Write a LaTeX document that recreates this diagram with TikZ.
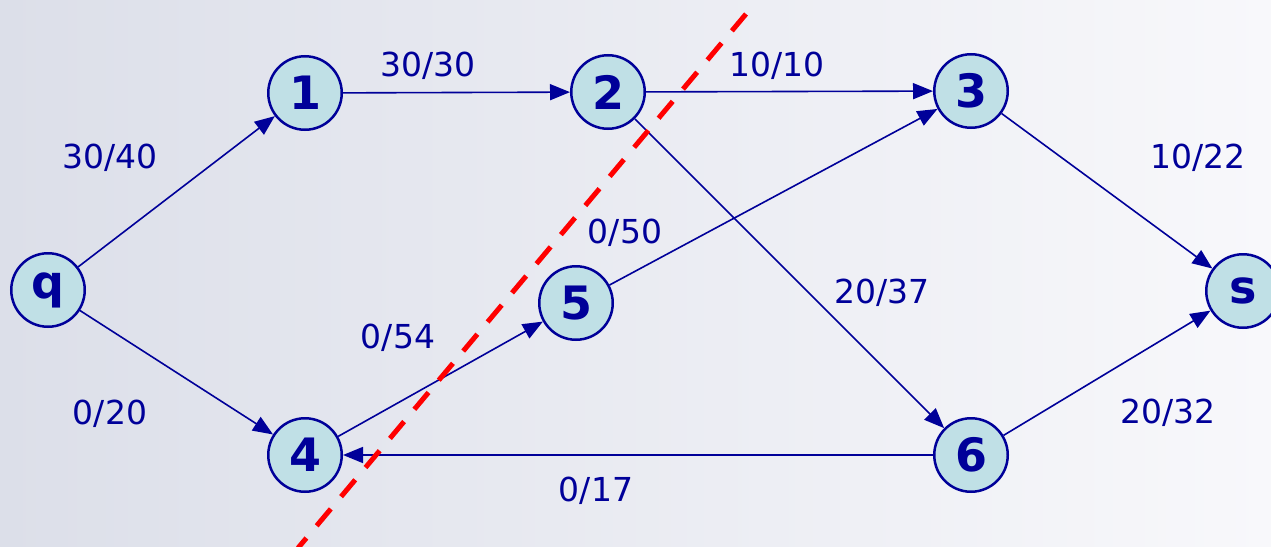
\documentclass[tikz,border=0pt]{standalone}
\usepackage{fontspec}
\setmainfont{DejaVu Sans}
\usetikzlibrary{arrows.meta}
\definecolor{navy}{HTML}{000099}
\definecolor{nodefill}{HTML}{C0E0E6}
\definecolor{bgleft}{HTML}{DCDFE9}
\definecolor{bgright}{HTML}{F8F8FB}
\tikzset{
  vertex/.style={circle, draw=navy, line width=2.5pt, fill=nodefill, minimum size=73.5pt, inner sep=0pt, text=navy, font=\fontsize{46}{46}\selectfont\bfseries},
  flow/.style={text=navy, font=\fontsize{33}{33}\selectfont},
  edge/.style={draw=navy, line width=1.6pt, -{Triangle[length=20pt,width=16pt]}},
  cut/.style={draw=red, line width=5pt, dash pattern=on 22pt off 16pt}
}
\begin{document}
\begin{tikzpicture}[x=1pt,y=-1pt]
\shade[left color=bgleft, right color=bgright] (0,0) rectangle (1271,546);
\useasboundingbox (0,0) rectangle (1271,546);
\node[vertex] (q) at (48,290) {q};
\node[vertex] (n1) at (305,93) {1};
\node[vertex] (n2) at (608,92) {2};
\node[vertex] (n3) at (971,91) {3};
\node[vertex] (n5) at (576,303) {5};
\node[vertex] (n4) at (305,455) {4};
\node[vertex] (n6) at (971,455) {6};
\node[vertex] (s) at (1243,291) {s};
\draw[edge] (q) -- (n1);
\draw[edge] (q) -- (n4);
\draw[edge] (n1) -- (n2);
\draw[edge] (n2) -- (n3);
\draw[edge] (n2) -- (n6);
\draw[edge] (n5) -- (n3);
\draw[edge] (n4) -- (n5);
\draw[edge] (n6) -- (n4);
\draw[edge] (n3) -- (s);
\draw[edge] (n6) -- (s);
\node[flow] (l1) at (110,158) {30/40};
\node[flow] (l2) at (428,66) {30/30};
\node[flow] (l3) at (777,66) {10/10};
\node[flow] (l4) at (1198,158) {10/22};
\node[flow] (l5) at (625,233) {0/50};
\node[flow] (l6) at (882,293) {20/37};
\node[flow] (l7) at (398,338) {0/54};
\node[flow] (l8) at (110,414) {0/20};
\node[flow] (l9) at (1168,413) {20/32};
\node[flow] (l10) at (596,491) {0/17};
\coordinate (c1) at (746,14);
\coordinate (c2) at (298,548);
\draw[cut] (c1) -- (c2);
\end{tikzpicture}
\end{document}
